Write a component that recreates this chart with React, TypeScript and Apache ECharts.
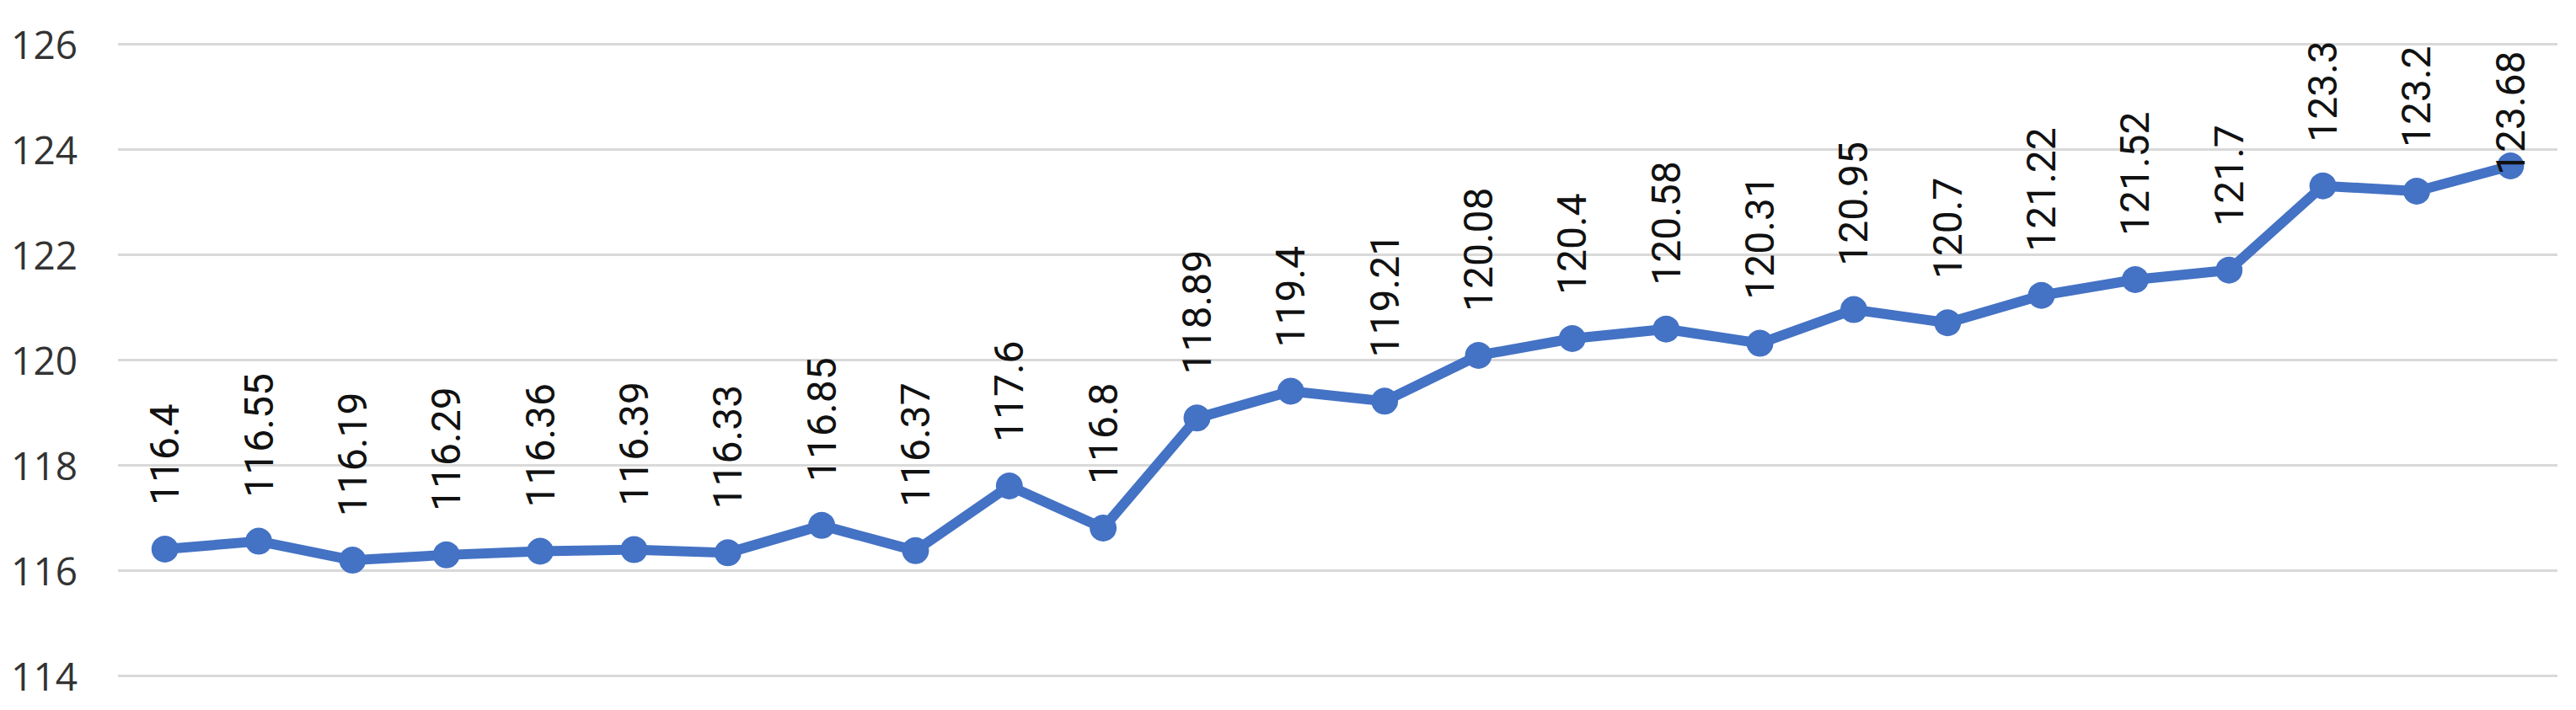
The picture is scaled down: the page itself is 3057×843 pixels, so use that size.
import React, { useEffect, useRef } from "react";
import * as echarts from "echarts";

const categories: string[] = [
  "1", "2", "3", "4", "5", "6", "7", "8", "9", "10", "11", "12", "13",
  "14", "15", "16", "17", "18", "19", "20", "21", "22", "23", "24", "25", "26",
];

const values: number[] = [
  116.4, 116.55, 116.19, 116.29, 116.36, 116.39, 116.33, 116.85, 116.37, 117.6,
  116.8, 118.89, 119.4, 119.21, 120.08, 120.4, 120.58, 120.31, 120.95, 120.7,
  121.22, 121.52, 121.7, 123.3, 123.2, 123.68,
];

const yTicks = { min: 114, max: 126, interval: 2 };

export default function App() {
  const ref = useRef<HTMLDivElement>(null);

  useEffect(() => {
    if (!ref.current) return;
    const chart = echarts.init(ref.current, null, { renderer: "svg" });
    const lastIdx = values.length - 1;
    const data = values.map((v, i) =>
      i === lastIdx
        ? { value: v, label: { distance: -27 } }
        : { value: v }
    );
    chart.setOption({
      animation: false,
      backgroundColor: "#ffffff",
      grid: { left: 140, right: 22, top: 52, bottom: 41, containLabel: false },
      xAxis: {
        type: "category",
        data: categories,
        boundaryGap: true,
        axisLine: { show: false },
        axisTick: { show: false },
        axisLabel: { show: false },
        splitLine: { show: false },
      },
      yAxis: {
        type: "value",
        min: yTicks.min,
        max: yTicks.max,
        interval: yTicks.interval,
        axisLine: { show: false },
        axisTick: { show: false },
        axisLabel: {
          margin: 48,
          fontSize: 46,
          fontFamily: "Open Sans",
          color: "#333333",
        },
        splitLine: { lineStyle: { color: "#d9d9d9", width: 3 } },
      },
      series: [
        {
          type: "line",
          data,
          symbol: "circle",
          symbolSize: 32,
          lineStyle: { color: "#4472c4", width: 12 },
          itemStyle: { color: "#4472c4" },
          label: {
            show: true,
            position: "top",
            distance: 36,
            rotate: 90,
            align: "left",
            verticalAlign: "middle",
            fontSize: 48,
            fontFamily: "Roboto",
            color: "#111111",
          },
        },
      ],
    });
    return () => chart.dispose();
  }, []);

  return (
    <div
      ref={ref}
      style={{ position: "fixed", left: 0, top: 0, width: 3057, height: 843 }}
    />
  );
}
